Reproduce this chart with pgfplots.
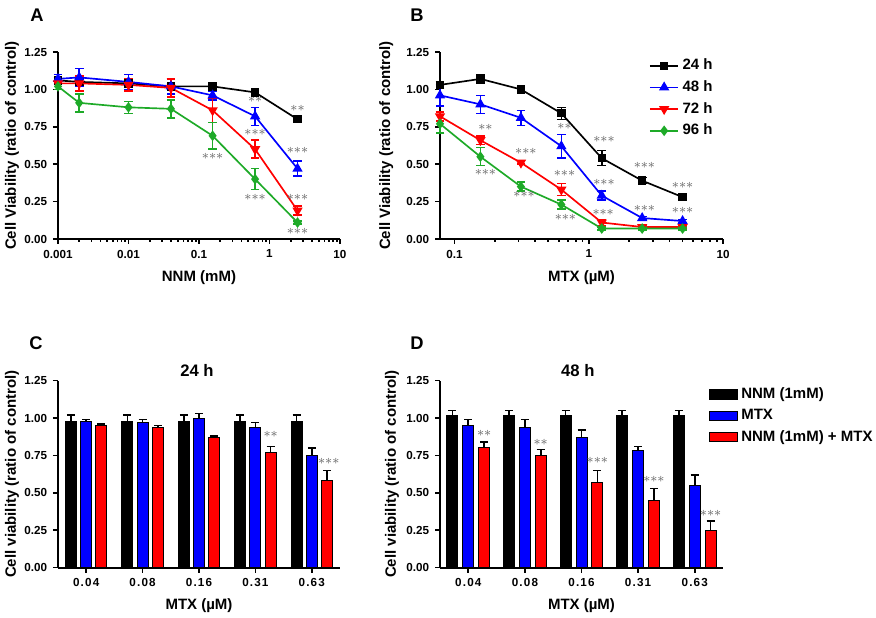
\documentclass[border=0pt]{standalone}
\usepackage{fontspec}
\setmainfont{Liberation Sans}
\usepackage{pgfplots}
\pgfplotsset{compat=1.18}
\definecolor{gpgreen}{RGB}{30,170,40}

\pgfplotsset{
  gp/.style={
    scale only axis, enlargelimits=false, clip=false,
    axis lines=left, axis line style={-, line width=1.2pt},
    tick align=outside, major tick length=3pt, minor tick length=1.8pt,
    tick style={black, line width=1pt},
    ymin=0, ymax=1.25, ytick={0,0.25,0.5,0.75,1,1.25},
    yticklabel style={/pgf/number format/fixed, /pgf/number format/fixed zerofill, /pgf/number format/precision=2},
    /pgf/number format/assume math mode=true,
    tick label style={font=\bfseries\fontsize{7}{8}\selectfont},
    label style={font=\bfseries\fontsize{9}{10}\selectfont},
    xlabel style={at={(axis description cs:0.5,0)}, anchor=center, yshift=-23pt},
  },
  ln/.style={line width=1pt, mark options={solid},
    error bars/y dir=both, error bars/y explicit,
    error bars/error bar style={line width=0.9pt},
    error bars/error mark options={rotate=90, line width=0.9pt, mark size=2.6pt}},
  br/.style={ybar, bar width=6.6pt, bar shift=0pt, draw=black, line width=0.6pt, area legend,
    error bars/y dir=plus, error bars/y explicit,
    error bars/error bar style={black, line width=1pt},
    error bars/error mark options={rotate=90, black, line width=1pt, mark size=2.4pt}},
}
\tikzset{st/.style={font=\fontsize{8}{8}\selectfont, text=black!60, inner sep=0pt}}

\begin{document}
\begin{tikzpicture}
\useasboundingbox (0,0) rectangle (525.6pt,370.8pt);

% ---- A ----
\begin{axis}[gp, at={(34.8pt,227.4pt)}, anchor=south west, width=169.2pt, height=112.2pt,
  xmode=log, xmin=0.001, xmax=10,
  xtick={0.001,0.01,0.1,1,10}, xticklabels={0.001,0.01,0.1,1,10},
  minor xtick={0.002,0.003,0.004,0.005,0.006,0.007,0.008,0.009,0.02,0.03,0.04,0.05,0.06,0.07,0.08,0.09,0.2,0.3,0.4,0.5,0.6,0.7,0.8,0.9,2,3,4,5,6,7,8,9},
  xlabel={NNM (mM)}, ylabel={Cell Viability (ratio of control)},
  ylabel style={at={(axis description cs:-0.163,0.5)}, anchor=center}]
\addplot[black, ln, mark=square*, mark size=2pt] coordinates {
  (0.001,1.06) +- (0,0.02) (0.002,1.05) +- (0,0.02) (0.01,1.04) +- (0,0.02) (0.04,1.02) +- (0,0.02)
  (0.156,1.02) +- (0,0.01) (0.625,0.98) +- (0,0.01) (2.5,0.80) +- (0,0.01)};
\addplot[blue, ln, mark=triangle*, mark size=2.6pt] coordinates {
  (0.001,1.07) +- (0,0.03) (0.002,1.08) +- (0,0.06) (0.01,1.05) +- (0,0.05) (0.04,1.02) +- (0,0.05)
  (0.156,0.96) +- (0,0.03) (0.625,0.82) +- (0,0.06) (2.5,0.47) +- (0,0.05)};
\addplot[red, ln, mark=triangle*, mark size=2.6pt, mark options={rotate=180}] coordinates {
  (0.001,1.04) +- (0,0.02) (0.002,1.04) +- (0,0.05) (0.01,1.03) +- (0,0.04) (0.04,1.01) +- (0,0.06)
  (0.156,0.86) +- (0,0.08) (0.625,0.60) +- (0,0.06) (2.5,0.19) +- (0,0.03)};
\addplot[gpgreen, ln, mark=diamond*, mark size=2.4pt] coordinates {
  (0.001,1.02) +- (0,0.02) (0.002,0.91) +- (0,0.06) (0.01,0.88) +- (0,0.04) (0.04,0.87) +- (0,0.06)
  (0.156,0.69) +- (0,0.09) (0.625,0.40) +- (0,0.07) (2.5,0.11) +- (0,0.01)};
\node[st] at (axis cs:0.625,0.93) {${\ast}{\ast}$};
\node[st] at (axis cs:2.5,0.875) {${\ast}{\ast}$};
\node[st] at (axis cs:0.625,0.715) {${\ast}{\ast}{\ast}$};
\node[st] at (axis cs:2.5,0.59) {${\ast}{\ast}{\ast}$};
\node[st] at (axis cs:0.156,0.555) {${\ast}{\ast}{\ast}$};
\node[st] at (axis cs:2.5,0.28) {${\ast}{\ast}{\ast}$};
\node[st] at (axis cs:0.625,0.276) {${\ast}{\ast}{\ast}$};
\node[st] at (axis cs:2.5,0.05) {${\ast}{\ast}{\ast}$};
\end{axis}

% ---- B ----
\begin{axis}[gp, at={(264pt,227.4pt)}, anchor=south west, width=169.8pt, height=112.2pt,
  xmode=log, xmin=0.078, xmax=10,
  xtick={0.1,1,10}, xticklabels={0.1,1,10},
  minor xtick={0.2,0.3,0.4,0.5,0.6,0.7,0.8,0.9,2,3,4,5,6,7,8,9},
  xlabel={MTX (µM)}, ylabel={Cell Viability (ratio of control)},
  ylabel style={at={(axis description cs:-0.19,0.5)}, anchor=center},
  legend style={at={(rel axis cs:0.72,1.0)}, anchor=north west, draw=none, fill=none,
    font=\bfseries\fontsize{9}{10}\selectfont, row sep=1pt},
  legend cell align=left]
\addplot[black, ln, mark=square*, mark size=2pt] coordinates {
  (0.078,1.03) +- (0,0.02) (0.156,1.07) +- (0,0.03) (0.3125,1.00) +- (0,0.02) (0.625,0.84) +- (0,0.04)
  (1.25,0.54) +- (0,0.05) (2.5,0.39) +- (0,0.02) (5,0.28) +- (0,0.01)};
\addplot[blue, ln, mark=triangle*, mark size=2.6pt] coordinates {
  (0.078,0.96) +- (0,0.07) (0.156,0.90) +- (0,0.06) (0.3125,0.81) +- (0,0.05) (0.625,0.62) +- (0,0.08)
  (1.25,0.29) +- (0,0.03) (2.5,0.14) +- (0,0.01) (5,0.12) +- (0,0.01)};
\addplot[red, ln, mark=triangle*, mark size=2.6pt, mark options={rotate=180}] coordinates {
  (0.078,0.82) +- (0,0.03) (0.156,0.66) +- (0,0.03) (0.3125,0.51) +- (0,0.01) (0.625,0.33) +- (0,0.04)
  (1.25,0.11) +- (0,0.02) (2.5,0.08) +- (0,0.01) (5,0.08) +- (0,0.01)};
\addplot[gpgreen, ln, mark=diamond*, mark size=2.4pt] coordinates {
  (0.078,0.77) +- (0,0.06) (0.156,0.55) +- (0,0.06) (0.3125,0.35) +- (0,0.03) (0.625,0.23) +- (0,0.03)
  (1.25,0.07) +- (0,0.01) (2.5,0.07) +- (0,0.01) (5,0.07) +- (0,0.01)};
\legend{24 h,48 h,72 h,96 h}
\node[st] at (axis cs:0.17,0.746) {${\ast}{\ast}$};
\node[st] at (axis cs:0.34,0.583) {${\ast}{\ast}{\ast}$};
\node[st] at (axis cs:0.66,0.75) {${\ast}{\ast}$};
\node[st] at (axis cs:1.3,0.666) {${\ast}{\ast}{\ast}$};
\node[st] at (axis cs:2.6,0.49) {${\ast}{\ast}{\ast}$};
\node[st] at (axis cs:5,0.36) {${\ast}{\ast}{\ast}$};
\node[st] at (axis cs:0.17,0.443) {${\ast}{\ast}{\ast}$};
\node[st] at (axis cs:0.66,0.439) {${\ast}{\ast}{\ast}$};
\node[st] at (axis cs:0.33,0.298) {${\ast}{\ast}{\ast}$};
\node[st] at (axis cs:1.3,0.376) {${\ast}{\ast}{\ast}$};
\node[st] at (axis cs:1.28,0.18) {${\ast}{\ast}{\ast}$};
\node[st] at (axis cs:0.67,0.145) {${\ast}{\ast}{\ast}$};
\node[st] at (axis cs:2.6,0.205) {${\ast}{\ast}{\ast}$};
\node[st] at (axis cs:5,0.19) {${\ast}{\ast}{\ast}$};
\end{axis}

% ---- C ----
\begin{axis}[gp, at={(34.8pt,30.2pt)}, anchor=south west, width=169.2pt, height=112.2pt,
  xmin=-0.5, xmax=4.5, xtick={0,1,2,3,4}, xticklabels={0.04,0.08,0.16,0.31,0.63},
  xticklabel style={font=\bfseries\fontsize{7}{8}\selectfont\addfontfeatures{LetterSpace=10}},
  xlabel={MTX (µM)}, ylabel={Cell viability (ratio of control)},
  ylabel style={at={(axis description cs:-0.163,0.5)}, anchor=center},
  title={24 h}, title style={at={(axis description cs:0.493,1)}, anchor=center, font=\bfseries\fontsize{10}{12}\selectfont}]
\addplot[br, fill=black] coordinates {
  (-0.27,0.98) +- (0,0.04) (0.73,0.98) +- (0,0.04) (1.73,0.98) +- (0,0.04) (2.73,0.98) +- (0,0.04) (3.73,0.98) +- (0,0.04)};
\addplot[br, fill=blue] coordinates {
  (0,0.98) +- (0,0.01) (1,0.97) +- (0,0.02) (2,1.00) +- (0,0.03) (3,0.94) +- (0,0.03) (4,0.75) +- (0,0.05)};
\addplot[br, fill=red] coordinates {
  (0.27,0.95) +- (0,0.01) (1.27,0.94) +- (0,0.01) (2.27,0.87) +- (0,0.01) (3.27,0.77) +- (0,0.04) (4.27,0.58) +- (0,0.07)};
\node[st] at (axis cs:3.27,0.89) {${\ast}{\ast}$};
\node[st] at (axis cs:4.3,0.71) {${\ast}{\ast}{\ast}$};
\end{axis}

% ---- D ----
\begin{axis}[gp, at={(264pt,30.2pt)}, anchor=south west, width=169.8pt, height=112.2pt,
  xmin=-0.5, xmax=4.5, xtick={0,1,2,3,4}, xticklabels={0.04,0.08,0.16,0.31,0.63},
  xticklabel style={font=\bfseries\fontsize{7}{8}\selectfont\addfontfeatures{LetterSpace=10}},
  xlabel={MTX (µM)}, ylabel={Cell viability (ratio of control)},
  ylabel style={at={(axis description cs:-0.17,0.5)}, anchor=center},
  title={48 h}, title style={at={(axis description cs:0.487,1)}, anchor=center, font=\bfseries\fontsize{10}{12}\selectfont},
  legend style={at={(rel axis cs:0.93,1.0)}, anchor=north west, draw=none, fill=none,
    font=\bfseries\fontsize{9}{10}\selectfont, row sep=1pt},
  legend cell align=left]
\addplot[br, fill=black] coordinates {
  (-0.28,1.02) +- (0,0.03) (0.72,1.02) +- (0,0.03) (1.72,1.02) +- (0,0.03) (2.72,1.02) +- (0,0.03) (3.72,1.02) +- (0,0.03)};
\addplot[br, fill=blue] coordinates {
  (0,0.95) +- (0,0.04) (1,0.94) +- (0,0.05) (2,0.87) +- (0,0.05) (3,0.78) +- (0,0.03) (4,0.55) +- (0,0.07)};
\addplot[br, fill=red] coordinates {
  (0.28,0.80) +- (0,0.04) (1.28,0.75) +- (0,0.04) (2.28,0.57) +- (0,0.08) (3.28,0.45) +- (0,0.08) (4.28,0.25) +- (0,0.06)};
\legend{NNM (1mM),MTX,NNM (1mM) + MTX}
\node[st] at (axis cs:0.28,0.90) {${\ast}{\ast}$};
\node[st] at (axis cs:1.28,0.84) {${\ast}{\ast}$};
\node[st] at (axis cs:2.28,0.72) {${\ast}{\ast}{\ast}$};
\node[st] at (axis cs:3.28,0.59) {${\ast}{\ast}{\ast}$};
\node[st] at (axis cs:4.28,0.36) {${\ast}{\ast}{\ast}$};
\end{axis}

\node[font=\bfseries\fontsize{11}{12}\selectfont] at (22.2pt,361.8pt) {A};
\node[font=\bfseries\fontsize{11}{12}\selectfont] at (250.2pt,361.8pt) {B};
\node[font=\bfseries\fontsize{11}{12}\selectfont] at (21.6pt,165pt) {C};
\node[font=\bfseries\fontsize{11}{12}\selectfont] at (250.2pt,165pt) {D};
\end{tikzpicture}
\end{document}
